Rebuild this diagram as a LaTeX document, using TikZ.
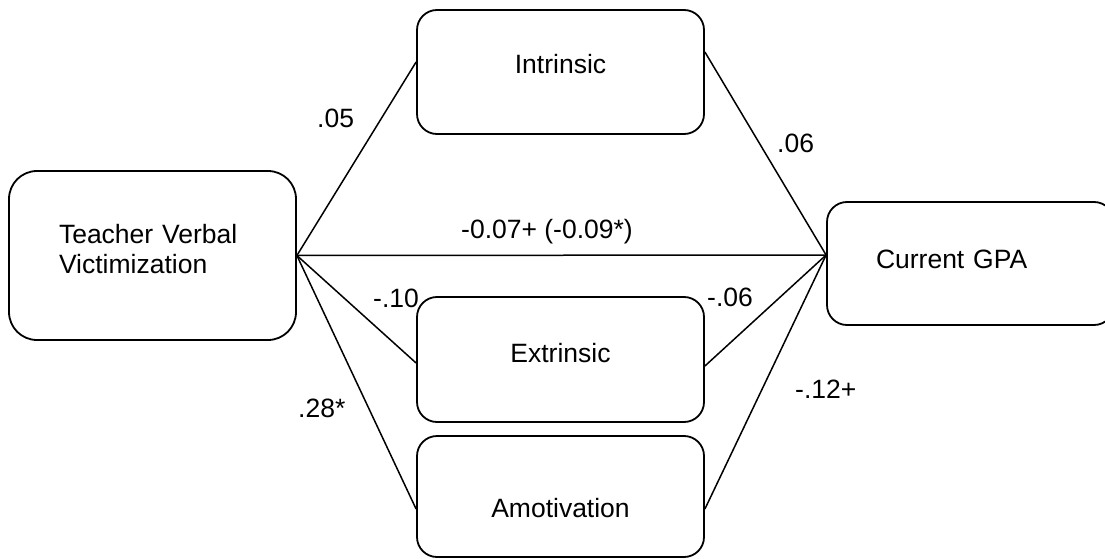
\documentclass[tikz,border=0pt]{standalone}
\usepackage{fontspec}
\setmainfont{Liberation Sans}
\usetikzlibrary{calc}
\begin{document}
\begin{tikzpicture}[x=1pt,y=-1pt,
  varbox/.style={draw, line width=1.8pt, rounded corners=20pt, inner sep=0pt,
    font=\fontsize{26.5}{30}\selectfont},
  mediator/.style={varbox, minimum width=287pt},
  pathline/.style={line width=1.5pt},
  coef/.style={anchor=base west, inner sep=0pt, font=\fontsize{26.5}{30}\selectfont}]
\useasboundingbox (0,0) rectangle (1105,559);

% variables
\node[varbox, rounded corners=28pt, minimum width=287pt, minimum height=169pt,
      text width=187pt, align=left, text height=5pt, text depth=30pt]
  (tvv) at (152.5,255.5) {Teacher Verbal\\Victimization};
\node[mediator, minimum height=124pt, text height=10pt, text depth=6pt]
  (intr) at (560.5,72) {Intrinsic};
\node[mediator, minimum height=125pt, text height=11pt, text depth=6pt]
  (extr) at (560.5,359.5) {Extrinsic};
\node[mediator, minimum height=121pt, text height=41pt, text depth=0pt]
  (amot) at (560.5,496.5) {Amotivation};
\node[varbox, minimum width=287pt, minimum height=123pt,
      text width=189pt, align=left, text height=15pt, text depth=6pt]
  (gpa) at (970.5,263.5) {Current GPA};

% connection points on the boxes
\coordinate (gpaL)  at ($(gpa.west)+(0,-8.5)$);
\coordinate (intrL) at ($(intr.west)+(0,-10)$);
\coordinate (intrR) at ($(intr.east)+(0,-20)$);
\coordinate (extrL) at ($(extr.west)+(0,3.5)$);
\coordinate (extrR) at ($(extr.east)+(0,6.5)$);
\coordinate (amotL) at ($(amot.west)+(0,12.5)$);
\coordinate (amotR) at ($(amot.east)+(0,12.5)$);

% paths
\draw[pathline] (tvv.east) -- (intrL);
\draw[pathline] (tvv.east) -- (extrL);
\draw[pathline] (tvv.east) -- (amotL);
\draw[pathline] (tvv.east) -- (gpaL);
\draw[pathline] (intrR) -- (gpaL);
\draw[pathline] (extrR) -- (gpaL);
\draw[pathline] (amotR) -- (gpaL);

% path coefficients
\node[coef] (c1) at (317,128) {.05};
\node[coef] (c2) at (777,153) {.06};
\node[coef] (c3) at (461,238) {-0.07+ (-0.09*)};
\node[coef] (c4) at (373,307) {-.10};
\node[coef] (c5) at (707,306) {-.06};
\node[coef] (c6) at (298,417) {.28*};
\node[coef] (c7) at (795,398) {-.12+};
\end{tikzpicture}
\end{document}
